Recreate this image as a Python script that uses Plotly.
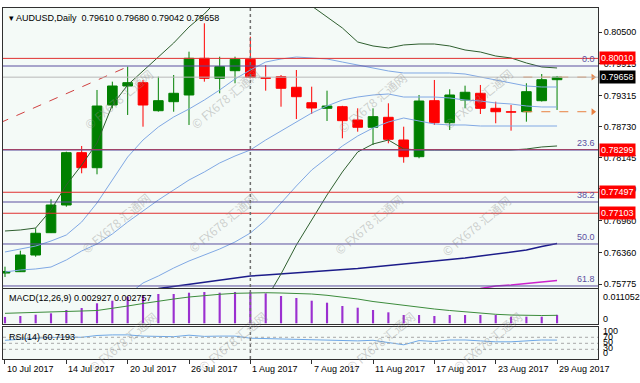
import plotly.graph_objects as go

# ---------------- data ----------------
dates = ["2017-07-10", "2017-07-11", "2017-07-12", "2017-07-13", "2017-07-14",
         "2017-07-17", "2017-07-18", "2017-07-19", "2017-07-20", "2017-07-21",
         "2017-07-24", "2017-07-25", "2017-07-26", "2017-07-27", "2017-07-28",
         "2017-07-31", "2017-08-01", "2017-08-02", "2017-08-03", "2017-08-04",
         "2017-08-07", "2017-08-08", "2017-08-09", "2017-08-10", "2017-08-11",
         "2017-08-14", "2017-08-15", "2017-08-16", "2017-08-17", "2017-08-18",
         "2017-08-21", "2017-08-22", "2017-08-23", "2017-08-24", "2017-08-25",
         "2017-08-28", "2017-08-29"]

tick_dates = ["2017-07-10", "2017-07-14", "2017-07-20", "2017-07-26", "2017-08-01",
              "2017-08-07", "2017-08-11", "2017-08-17", "2017-08-23", "2017-08-29"]
tick_text = ["10 Jul 2017", "14 Jul 2017", "20 Jul 2017", "26 Jul 2017", "1 Aug 2017",
             "7 Aug 2017", "11 Aug 2017", "17 Aug 2017", "23 Aug 2017", "29 Aug 2017"]

open_ = [0.75981, 0.76006, 0.76319, 0.76738, 0.77258, 0.78240, 0.77958, 0.79135, 0.79492, 0.79554,
         0.79028, 0.79197, 0.79323, 0.80012, 0.79636, 0.79779, 0.79993, 0.79648, 0.79667, 0.79468,
         0.79178, 0.79073, 0.79103, 0.78854, 0.78717, 0.78904, 0.78478, 0.78165, 0.79216, 0.78803,
         0.79229, 0.79355, 0.79073, 0.79009, 0.79009, 0.79216, 0.79610]
high = [0.76100, 0.76400, 0.76821, 0.77365, 0.78259, 0.78366, 0.79417, 0.79573, 0.79854, 0.79605,
        0.79667, 0.79698, 0.80136, 0.80669, 0.80042, 0.80042, 0.80417, 0.79886, 0.79698, 0.79792,
        0.79479, 0.79404, 0.79120, 0.79073, 0.79073, 0.79167, 0.78728, 0.79323, 0.79605, 0.79430,
        0.79498, 0.79511, 0.79197, 0.79135, 0.79543, 0.79717, 0.79680]
low = [0.75906, 0.76000, 0.76287, 0.76732, 0.77226, 0.77853, 0.77834, 0.79073, 0.78948, 0.78728,
       0.79010, 0.79009, 0.78760, 0.79573, 0.79355, 0.79543, 0.79636, 0.79404, 0.79103, 0.78872,
       0.78966, 0.78835, 0.78510, 0.78634, 0.78384, 0.78416, 0.78052, 0.78135, 0.78760, 0.78666,
       0.79073, 0.78966, 0.78792, 0.78653, 0.78822, 0.79200, 0.79042]
close = [0.76010, 0.76319, 0.76727, 0.77258, 0.78240, 0.77958, 0.79116, 0.79492, 0.79554, 0.79135,
         0.79216, 0.79355, 0.80012, 0.79636, 0.79854, 0.79993, 0.79655, 0.79636, 0.79449, 0.79291,
         0.79079, 0.79116, 0.78841, 0.78717, 0.78916, 0.78491, 0.78165, 0.79210, 0.78803, 0.79323,
         0.79374, 0.79073, 0.79009, 0.79000, 0.79385, 0.79610, 0.79658]

ma_fast = [0.76376, 0.76432, 0.76488, 0.76582, 0.76695, 0.76939, 0.77296, 0.77727, 0.78159, 0.78478,
           0.78722, 0.78910, 0.79060, 0.79229, 0.79417, 0.79623, 0.79792, 0.79942, 0.79999, 0.80036,
           0.80018, 0.79999, 0.79942, 0.79886, 0.79830, 0.79774, 0.79736, 0.79736, 0.79736, 0.79736,
           0.79717, 0.79661, 0.79605, 0.79548, 0.79492, 0.79473, 0.79473]
ma_mid = [0.76000, 0.76038, 0.76057, 0.76094, 0.76226, 0.76395, 0.76526, 0.76714, 0.76939, 0.77145,
          0.77352, 0.77540, 0.77727, 0.77878, 0.78047, 0.78178, 0.78291, 0.78478, 0.78647, 0.78816,
          0.78985, 0.79117, 0.79229, 0.79285, 0.79323, 0.79342, 0.79285, 0.79285, 0.79285, 0.79267,
          0.79229, 0.79210, 0.79173, 0.79154, 0.79117, 0.79098, 0.79098]
ma_slow = [None] * 8 + [0.75569, 0.75794, 0.75925, 0.76075, 0.76207, 0.76319, 0.76432, 0.76564,
                        0.76732, 0.76976, 0.77296, 0.77615, 0.77915, 0.78140, 0.78366, 0.78553,
                        0.78704, 0.78816, 0.78891, 0.78835, 0.78779, 0.78760, 0.78760, 0.78741,
                        0.78741, 0.78741, 0.78741, 0.78741, 0.78741]
ma_long = [None] * 10 + [0.75690, 0.75728, 0.75766, 0.75813, 0.75850, 0.75888, 0.75925, 0.75944,
                         0.75963, 0.75982, 0.76000, 0.76019, 0.76038, 0.76066, 0.76094, 0.76122,
                         0.76151, 0.76179, 0.76197, 0.76226, 0.76263, 0.76301, 0.76338, 0.76376,
                         0.76413, 0.76479, 0.76535]
ma_vlong = [None] * 31 + [0.75690, 0.75738, 0.75756, 0.75784, 0.75803, 0.75841]
band_up = [0.76770, 0.76789, 0.76826, 0.77164, 0.77634, 0.78009, 0.78422, 0.79135, 0.79511, 0.79773,
           0.80018, 0.80299, 0.80600, 0.80844, 0.81150, 0.81250, 0.81300, 0.81300, 0.81275, 0.81125,
           0.80994, 0.80787, 0.80581, 0.80318, 0.80243, 0.80205, 0.80262, 0.80280, 0.80280, 0.80243,
           0.80168, 0.80130, 0.80055, 0.80018, 0.79924, 0.79849, 0.79830]
band_dn = [None] * 16 + [0.75280, 0.75475, 0.75963, 0.76507, 0.76976, 0.77446, 0.77878, 0.78253,
                         0.78403, 0.78478, 0.78309, 0.78291, 0.78291, 0.78291, 0.78291, 0.78291,
                         0.78291, 0.78291, 0.78309, 0.78347, 0.78366]

macd_main = [0.00220, 0.00252, 0.00297, 0.00345, 0.00459, 0.00528, 0.00691, 0.00781, 0.00919, 0.00967,
             0.01012, 0.01012, 0.01057, 0.01081, 0.01057, 0.01081, 0.01081, 0.01036, 0.00943, 0.00874,
             0.00781, 0.00712, 0.00598, 0.00539, 0.00459, 0.00380, 0.00287, 0.00287, 0.00252, 0.00287,
             0.00287, 0.00287, 0.00287, 0.00228, 0.00228, 0.00228, 0.002927]
macd_signal = [0.00345, 0.00356, 0.00373, 0.00390, 0.00408, 0.00425, 0.00442, 0.00511, 0.00598, 0.00684,
               0.00770, 0.00839, 0.00908, 0.00960, 0.01002, 0.01036, 0.01057, 0.01057, 0.01047, 0.01036,
               0.01012, 0.00967, 0.00908, 0.00839, 0.00753, 0.00684, 0.00615, 0.00546, 0.00494, 0.00442,
               0.00390, 0.00345, 0.00311, 0.00287, 0.00269, 0.00269, 0.002757]
rsi = [60, 64, 67, 69, 71, 70, 76, 78, 78, 74, 72, 72, 77, 73, 74, 74, 67, 66, 64, 62,
       61, 61, 59, 58, 60, 52, 45, 59, 56, 61, 61, 58, 55, 55, 58, 61, 60.7193]
rsi_levels = [70, 50, 30]

red_levels = [0.80010, 0.78299, 0.77497, 0.77103]
fib_names = ["0.0", "23.6", "38.2", "50.0", "61.8"]
fib_prices = [0.79867, 0.78290, 0.77314, 0.76526, 0.75738]
bid = 0.79658
trend_x = [-0.33, 8.0]
trend_y = [0.78800, 0.79854]
trade_levels = [0.79658, 0.79009]
trade_x = [33.8, 38.35]
separator_date = "2017-08-01"

price_ticks = [0.80500, 0.79915, 0.79315, 0.78730, 0.78145, 0.77560, 0.76960, 0.76360, 0.75775]
header = "▾ AUDUSD,Daily  0.79610 0.79680 0.79042 0.79658"

# ---------------- style ----------------
FONT = "Liberation Sans, Arial, sans-serif"
BG = "#F4FAF7"
FRAME = "#303030"
GREEN = "#008000"
RED = "#FF0000"
FIB = "#5B4F9F"
LRED = "#E03030"
LBLUE = "#80A8E4"

n = len(dates)
idx = list(range(n))
pos = {d: i for i, d in enumerate(dates)}
tick_idx = [pos[d] for d in tick_dates]

fig = go.Figure()

# candle wicks
for is_up, col in ((True, GREEN), (False, RED)):
    wx, wy = [], []
    for i in idx:
        if (close[i] >= open_[i]) == is_up:
            wx += [i, i, None]
            wy += [low[i], high[i], None]
    fig.add_trace(go.Scatter(x=wx, y=wy, mode="lines", line=dict(color=col, width=1),
                             hoverinfo="skip", xaxis="x", yaxis="y"))

# candle bodies
cols = [GREEN if c >= o else RED for o, c in zip(open_, close)]
base = [min(o, c) for o, c in zip(open_, close)]
height = [max(abs(c - o), 0.00002) for o, c in zip(open_, close)]
fig.add_trace(go.Bar(x=idx, y=height, base=base, width=0.63,
                     marker=dict(color=cols, line=dict(color=cols, width=1)),
                     hoverinfo="skip", xaxis="x", yaxis="y"))

# indicators
def line(y, color, width=1, dash=None, x=None):
    fig.add_trace(go.Scatter(x=idx if x is None else x, y=y, mode="lines",
                             line=dict(color=color, width=width, dash=dash),
                             connectgaps=False, hoverinfo="skip", xaxis="x", yaxis="y"))

line(ma_slow, LBLUE)
line(ma_mid, LBLUE)
line(ma_fast, LBLUE)
line(ma_long, "#1C1C8A", 1.5)
line(ma_vlong, "#CC22CC", 1.5)
line(band_up, "#2F5F2F")
line(band_dn, "#2F5F2F")
line(trend_y, "#D04040", 1, "dash", trend_x)

for lv in trade_levels:
    fig.add_trace(go.Scatter(x=trade_x, y=[lv, lv], mode="lines",
                             line=dict(color="#E88040", width=1, dash="dash"),
                             hoverinfo="skip", xaxis="x", yaxis="y"))
fig.add_trace(go.Scatter(x=[trade_x[1]] * len(trade_levels), y=trade_levels, mode="markers",
                         marker=dict(symbol="triangle-right", size=6, color="#E88040"),
                         hoverinfo="skip", xaxis="x", yaxis="y"))

# MACD
fig.add_trace(go.Bar(x=idx, y=macd_main, width=0.14, marker=dict(color="#9B30D0", line=dict(width=0)),
                     hoverinfo="skip", xaxis="x2", yaxis="y2"))
fig.add_trace(go.Scatter(x=idx, y=macd_signal, mode="lines", line=dict(color="#3C8C3C", width=1),
                         hoverinfo="skip", xaxis="x2", yaxis="y2"))

# RSI
fig.add_trace(go.Scatter(x=idx, y=rsi, mode="lines", line=dict(color="#6FA8E6", width=1),
                         hoverinfo="skip", xaxis="x3", yaxis="y3"))

shapes = []
for lv in red_levels:
    shapes.append(dict(type="line", xref="x domain", x0=0, x1=1, yref="y", y0=lv, y1=lv,
                       line=dict(color=LRED, width=1)))
shapes.append(dict(type="line", xref="x domain", x0=0, x1=1, yref="y", y0=bid, y1=bid,
                   line=dict(color="#B8B8B8", width=1)))
for lv in fib_prices:
    shapes.append(dict(type="line", xref="x domain", x0=0, x1=1, yref="y", y0=lv, y1=lv,
                       line=dict(color=FIB, width=1)))
for lv in rsi_levels:
    shapes.append(dict(type="line", xref="x3 domain", x0=0, x1=1, yref="y3", y0=lv, y1=lv,
                       line=dict(color="#A8A8A8", width=1, dash="dot")))
sep = pos[separator_date]
shapes.append(dict(type="line", xref="x", x0=sep, x1=sep, yref="paper", y0=0, y1=1,
                   line=dict(color="#707070", width=1.5, dash="dot")))

ann = []
# watermarks
for (px, py) in [(78, 62), (225, 62), (372, 66), (519, 62),
                 (75, 222), (222, 222), (368, 224), (517, 226),
                 (82, 378), (232, 378), (380, 378), (528, 378)]:
    ann.append(dict(x=(px - 3) / 595, y=(359 - py) / 351, xref="paper", yref="paper",
                    text="© FX678 汇通网", showarrow=False, textangle=-40,
                    font=dict(family="Noto Sans CJK SC", size=12, color="rgba(140,140,140,0.40)")))

ann.append(dict(x=0.0067, y=(359 - 18) / 351, xref="paper", yref="paper", xanchor="left",
                yanchor="middle", text=header, showarrow=False, font=dict(size=9)))
ann.append(dict(x=0.0067, y=(359 - 298) / 351, xref="paper", yref="paper", xanchor="left",
                yanchor="middle", text="MACD(12,26,9) %.6f %.6f" % (macd_main[-1], macd_signal[-1]),
                showarrow=False, font=dict(size=9)))
ann.append(dict(x=0.0067, y=(359 - 337) / 351, xref="paper", yref="paper", xanchor="left",
                yanchor="middle", text="RSI(14) %.4f" % rsi[-1], showarrow=False, font=dict(size=9)))

# fib labels
for name, lv in zip(fib_names, fib_prices):
    ann.append(dict(x=1, xref="paper", xanchor="right", xshift=-1, y=lv, yref="y", yanchor="bottom",
                    text=name, showarrow=False, font=dict(size=9, color=FIB)))

# price boxes
for lv in red_levels:
    ann.append(dict(x=1, xref="paper", xanchor="left", xshift=1, y=lv, yref="y", yanchor="middle",
                    text="%.5f" % lv, showarrow=False, bgcolor=RED, borderpad=1,
                    font=dict(size=9, color="white")))
ann.append(dict(x=1, xref="paper", xanchor="left", xshift=1, y=bid, yref="y", yanchor="middle",
                text="%.5f" % bid, showarrow=False, bgcolor="black", borderpad=1,
                font=dict(size=9, color="white")))

# MACD / RSI scale labels
for v, t, s in [(0.011052, "0.011052", -6), (0, "0", 4)]:
    ann.append(dict(x=1, xref="paper", xanchor="left", xshift=3, y=v, yref="y2", yanchor="middle",
                    yshift=s, text=t, showarrow=False, font=dict(size=9)))
for v, s in [(100, -3), (70, 0), (50, 1), (30, 1), (0, 5)]:
    ann.append(dict(x=1, xref="paper", xanchor="left", xshift=3, y=v, yref="y3", yanchor="middle",
                    yshift=s, text=str(v), showarrow=False, font=dict(size=9)))

# date labels
for i, t in zip(tick_idx, tick_text):
    ann.append(dict(x=i, xref="x3", xanchor="left", xshift=0, y=0, yref="paper", yanchor="top",
                    yshift=-3, text=t, showarrow=False, font=dict(size=9)))

XR = [-0.13, 38.67]
ax_common = dict(showline=True, mirror=True, linecolor=FRAME, linewidth=1, showgrid=False,
                 zeroline=False)
fig.update_layout(
    width=640, height=383, margin=dict(l=3, r=42, t=8, b=24),
    paper_bgcolor="white", plot_bgcolor=BG, showlegend=False,
    barmode="overlay", font=dict(family=FONT, size=9, color="black"),
    xaxis=dict(domain=[0, 1], range=XR, anchor="y", showticklabels=False, ticks="", **ax_common),
    xaxis2=dict(domain=[0, 1], range=XR, anchor="y2", matches="x", showticklabels=False, ticks="",
                **ax_common),
    xaxis3=dict(domain=[0, 1], range=XR, anchor="y3", matches="x", showticklabels=False,
                ticks="outside", ticklen=4, tickcolor=FRAME, tickvals=tick_idx, **ax_common),
    yaxis=dict(domain=[0.2023, 1], range=[0.75700, 0.80956], anchor="x", side="right",
               tickvals=price_ticks, ticktext=["%.5f" % v for v in price_ticks],
               ticks="outside", ticklen=3, tickcolor=FRAME, **ax_common),
    yaxis2=dict(domain=[0.0997, 0.1994], range=[-0.000242, 0.011848], anchor="x2", side="right",
                showticklabels=False, ticks="", **ax_common),
    yaxis3=dict(domain=[0, 0.0912], range=[-2.33, 104.33], anchor="x3", side="right",
                showticklabels=False, ticks="", **ax_common),
    shapes=shapes, annotations=ann,
)

fig.write_html("out.html")
